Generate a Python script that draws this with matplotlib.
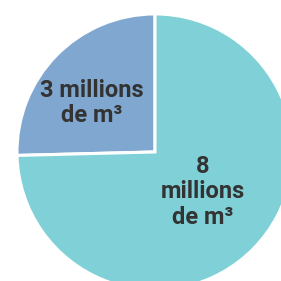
import matplotlib
matplotlib.use("Agg")
import matplotlib.pyplot as plt

# parts du volume et étiquettes
parts = [25.4, 74.6]
etiquettes = ["3 millions\nde m³", "8\nmillions\nde m³"]
couleurs = ["#80a7cf", "#80d1d7"]
pos_etiquettes = [(-0.457, 0.355), (0.348, -0.29)]

fig = plt.figure(figsize=(2.81, 2.81), dpi=100)
ax = fig.add_axes([0, 0, 1, 1])

ax.pie(parts, colors=couleurs, startangle=90, counterclock=True,
       wedgeprops=dict(edgecolor="white", linewidth=2.2), radius=1)

for txt, (x, y) in zip(etiquettes, pos_etiquettes):
    ax.text(x, y, txt, ha="center", va="center", fontsize=17,
            family=["Roboto", "DejaVu Sans"], fontweight="semibold",
            color="#333333", linespacing=1.12)

ax.set_xlim(-1.123, 0.913)
ax.set_ylim(-0.935, 1.101)
ax.set_aspect("auto")
ax.axis("off")

fig.savefig("out.png", dpi=100, facecolor="white")
